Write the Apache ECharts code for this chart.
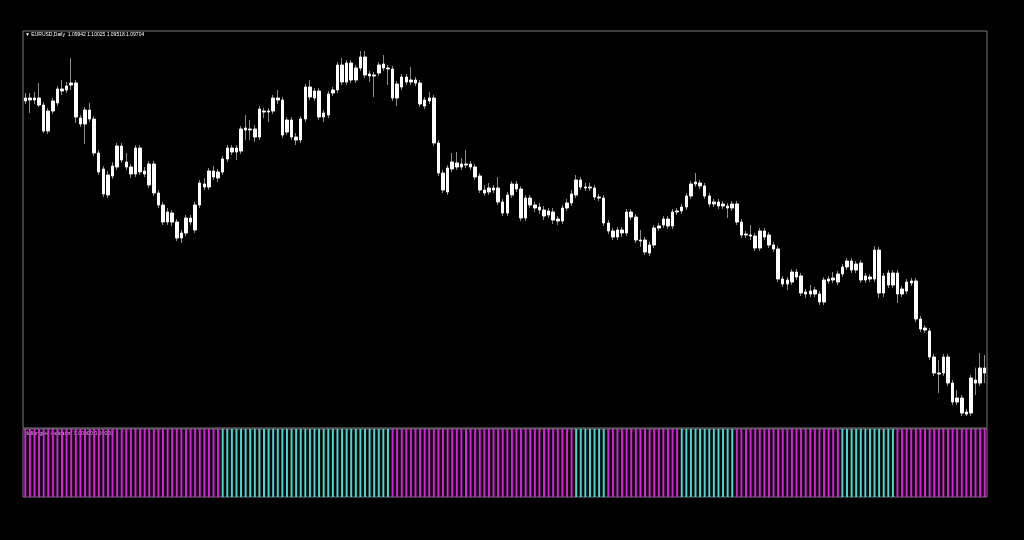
<!DOCTYPE html>
<html>
<head>
<meta charset="utf-8">
<title>EURUSD Daily</title>
<script src="https://cdn.jsdelivr.net/npm/echarts@6/dist/echarts.min.js"></script>
<style>
  html, body { margin: 0; padding: 0; background: #000; }
  #chart { width: 1024px; height: 540px; }
</style>
</head>
<body>
<div id="chart"></div>
<script>
// daily bars, [open, close, low, high]
const candles = [
  [1.1797,1.1806,1.1788,1.1821],[1.1806,1.1800,1.1761,1.1821],[1.1800,1.1806,1.1788,1.1824],[1.1806,1.1785,1.1779,1.1851],[1.1785,1.1707,1.1701,1.1794],
  [1.1707,1.1767,1.1698,1.1776],[1.1767,1.1797,1.1758,1.1806],[1.1791,1.1833,1.1782,1.1842],[1.1833,1.1827,1.1815,1.1860],[1.1830,1.1842,1.1821,1.1854],
  [1.1845,1.1851,1.1830,1.1926],[1.1851,1.1749,1.1731,1.1860],[1.1746,1.1728,1.1719,1.1755],[1.1728,1.1770,1.1668,1.1779],[1.1770,1.1743,1.1734,1.1791],
  [1.1743,1.1641,1.1632,1.1752],[1.1641,1.1584,1.1575,1.1650],[1.1593,1.1518,1.1509,1.1602],[1.1515,1.1575,1.1506,1.1587],[1.1572,1.1602,1.1563,1.1614],
  [1.1599,1.1662,1.1590,1.1671],[1.1662,1.1620,1.1611,1.1671],[1.1614,1.1599,1.1590,1.1641],[1.1599,1.1578,1.1566,1.1608],[1.1578,1.1656,1.1569,1.1665],
  [1.1656,1.1584,1.1575,1.1665],[1.1587,1.1578,1.1569,1.1599],[1.1545,1.1608,1.1536,1.1617],[1.1608,1.1521,1.1512,1.1617],[1.1521,1.1485,1.1476,1.1530],
  [1.1485,1.1434,1.1425,1.1494],[1.1434,1.1464,1.1425,1.1476],[1.1461,1.1434,1.1422,1.1470],[1.1434,1.1386,1.1377,1.1443],[1.1386,1.1401,1.1371,1.1410],
  [1.1401,1.1446,1.1392,1.1455],[1.1446,1.1434,1.1425,1.1455],[1.1410,1.1485,1.1401,1.1494],[1.1485,1.1551,1.1476,1.1560],[1.1548,1.1539,1.1530,1.1566],
  [1.1539,1.1587,1.1530,1.1596],[1.1587,1.1569,1.1560,1.1602],[1.1566,1.1584,1.1554,1.1593],[1.1584,1.1623,1.1575,1.1632],[1.1623,1.1656,1.1614,1.1665],
  [1.1656,1.1644,1.1635,1.1665],[1.1644,1.1656,1.1620,1.1665],[1.1647,1.1713,1.1638,1.1722],[1.1710,1.1716,1.1680,1.1755],[1.1713,1.1710,1.1680,1.1740],
  [1.1713,1.1689,1.1674,1.1725],[1.1689,1.1773,1.1680,1.1782],[1.1767,1.1764,1.1746,1.1776],[1.1764,1.1767,1.1734,1.1776],[1.1767,1.1806,1.1758,1.1815],
  [1.1806,1.1800,1.1788,1.1830],[1.1800,1.1695,1.1686,1.1809],[1.1704,1.1740,1.1695,1.1749],[1.1740,1.1689,1.1680,1.1749],[1.1689,1.1680,1.1665,1.1701],
  [1.1680,1.1743,1.1671,1.1752],[1.1743,1.1839,1.1734,1.1848],[1.1839,1.1809,1.1800,1.1860],[1.1806,1.1827,1.1797,1.1836],[1.1827,1.1749,1.1740,1.1836],
  [1.1749,1.1761,1.1734,1.1770],[1.1755,1.1818,1.1746,1.1827],[1.1821,1.1830,1.1812,1.1839],[1.1830,1.1905,1.1821,1.1914],[1.1905,1.1854,1.1845,1.1926],
  [1.1854,1.1911,1.1845,1.1920],[1.1911,1.1860,1.1851,1.1920],[1.1860,1.1896,1.1851,1.1905],[1.1896,1.1929,1.1887,1.1947],[1.1929,1.1875,1.1866,1.1947],
  [1.1878,1.1872,1.1854,1.1887],[1.1872,1.1875,1.1809,1.1884],[1.1881,1.1905,1.1872,1.1914],[1.1908,1.1896,1.1887,1.1935],[1.1896,1.1893,1.1845,1.1905],
  [1.1893,1.1806,1.1797,1.1902],[1.1806,1.1848,1.1782,1.1857],[1.1839,1.1869,1.1830,1.1878],[1.1869,1.1854,1.1845,1.1878],[1.1854,1.1860,1.1845,1.1899],
  [1.1860,1.1851,1.1842,1.1869],[1.1851,1.1788,1.1779,1.1860],[1.1782,1.1800,1.1773,1.1809],[1.1797,1.1806,1.1788,1.1824],[1.1806,1.1671,1.1662,1.1815],
  [1.1671,1.1581,1.1572,1.1680],[1.1581,1.1530,1.1521,1.1590],[1.1524,1.1596,1.1515,1.1605],[1.1593,1.1614,1.1584,1.1641],[1.1611,1.1599,1.1590,1.1644],
  [1.1599,1.1608,1.1590,1.1626],[1.1608,1.1605,1.1596,1.1650],[1.1608,1.1599,1.1590,1.1617],[1.1599,1.1569,1.1560,1.1608],[1.1572,1.1530,1.1521,1.1581],
  [1.1530,1.1521,1.1512,1.1545],[1.1524,1.1536,1.1515,1.1551],[1.1536,1.1530,1.1521,1.1545],[1.1536,1.1494,1.1485,1.1569],[1.1494,1.1461,1.1452,1.1503],
  [1.1461,1.1515,1.1452,1.1524],[1.1515,1.1548,1.1506,1.1557],[1.1548,1.1533,1.1524,1.1557],[1.1533,1.1446,1.1437,1.1542],[1.1446,1.1506,1.1437,1.1515],
  [1.1506,1.1485,1.1476,1.1515],[1.1485,1.1476,1.1464,1.1494],[1.1479,1.1470,1.1458,1.1491],[1.1470,1.1452,1.1440,1.1482],[1.1455,1.1467,1.1446,1.1476],
  [1.1464,1.1440,1.1428,1.1476],[1.1443,1.1437,1.1425,1.1452],[1.1437,1.1476,1.1428,1.1485],[1.1476,1.1491,1.1467,1.1503],[1.1491,1.1518,1.1482,1.1530],
  [1.1515,1.1560,1.1506,1.1575],[1.1560,1.1539,1.1530,1.1569],[1.1539,1.1536,1.1527,1.1551],[1.1536,1.1539,1.1527,1.1551],[1.1536,1.1509,1.1500,1.1545],
  [1.1509,1.1506,1.1497,1.1518],[1.1506,1.1431,1.1422,1.1515],[1.1431,1.1407,1.1398,1.1440],[1.1407,1.1389,1.1380,1.1416],[1.1389,1.1410,1.1380,1.1419],
  [1.1410,1.1401,1.1389,1.1419],[1.1401,1.1464,1.1392,1.1473],[1.1464,1.1449,1.1440,1.1473],[1.1449,1.1380,1.1371,1.1458],[1.1380,1.1377,1.1359,1.1410],
  [1.1380,1.1344,1.1335,1.1389],[1.1341,1.1365,1.1332,1.1374],[1.1365,1.1416,1.1356,1.1425],[1.1416,1.1422,1.1407,1.1431],[1.1425,1.1443,1.1416,1.1452],
  [1.1443,1.1422,1.1413,1.1452],[1.1422,1.1464,1.1413,1.1473],[1.1464,1.1467,1.1455,1.1476],[1.1467,1.1479,1.1458,1.1488],[1.1479,1.1512,1.1470,1.1521],
  [1.1512,1.1548,1.1503,1.1557],[1.1548,1.1554,1.1539,1.1581],[1.1551,1.1542,1.1533,1.1560],[1.1542,1.1512,1.1503,1.1551],[1.1512,1.1488,1.1479,1.1521],
  [1.1488,1.1494,1.1479,1.1503],[1.1494,1.1482,1.1473,1.1503],[1.1482,1.1488,1.1473,1.1497],[1.1482,1.1476,1.1446,1.1491],[1.1476,1.1488,1.1467,1.1497],
  [1.1488,1.1434,1.1425,1.1497],[1.1434,1.1395,1.1386,1.1443],[1.1395,1.1398,1.1386,1.1407],[1.1395,1.1392,1.1380,1.1425],[1.1392,1.1356,1.1347,1.1401],
  [1.1356,1.1407,1.1347,1.1416],[1.1407,1.1389,1.1380,1.1416],[1.1395,1.1365,1.1356,1.1404],[1.1365,1.1353,1.1344,1.1374],[1.1353,1.1263,1.1254,1.1362],
  [1.1263,1.1248,1.1239,1.1272],[1.1248,1.1260,1.1230,1.1269],[1.1254,1.1284,1.1245,1.1293],[1.1284,1.1269,1.1260,1.1293],[1.1272,1.1221,1.1212,1.1281],
  [1.1224,1.1218,1.1206,1.1233],[1.1218,1.1227,1.1209,1.1245],[1.1230,1.1218,1.1209,1.1239],[1.1218,1.1194,1.1185,1.1227],[1.1194,1.1260,1.1185,1.1269],
  [1.1263,1.1257,1.1248,1.1272],[1.1260,1.1266,1.1251,1.1284],[1.1254,1.1278,1.1245,1.1287],[1.1278,1.1299,1.1269,1.1308],[1.1299,1.1317,1.1290,1.1326],
  [1.1317,1.1290,1.1281,1.1326],[1.1290,1.1308,1.1281,1.1317],[1.1311,1.1260,1.1251,1.1320],[1.1260,1.1272,1.1251,1.1281],[1.1269,1.1263,1.1254,1.1278],
  [1.1263,1.1350,1.1254,1.1362],[1.1350,1.1221,1.1206,1.1359],[1.1221,1.1272,1.1209,1.1281],[1.1281,1.1245,1.1236,1.1290],[1.1245,1.1281,1.1236,1.1290],
  [1.1281,1.1218,1.1191,1.1290],[1.1218,1.1233,1.1209,1.1242],[1.1227,1.1254,1.1218,1.1263],[1.1257,1.1251,1.1242,1.1266],[1.1257,1.1143,1.1134,1.1266],
  [1.1143,1.1113,1.1104,1.1152],[1.1116,1.1110,1.1101,1.1125],[1.1107,1.1029,1.1020,1.1116],[1.1029,1.0981,1.0972,1.1038],[1.0981,1.0978,1.0921,1.1020],
  [1.0981,1.1029,1.0972,1.1038],[1.1029,1.0951,1.0942,1.1038],[1.0951,1.0894,1.0885,1.0960],[1.0894,1.0906,1.0885,1.0930],[1.0906,1.0861,1.0852,1.0915],
  [1.0858,1.0864,1.0852,1.0873],[1.0861,1.0966,1.0852,1.0975],[1.0960,1.0951,1.0915,1.0997],[1.0951,1.0996,1.0942,1.1041],[1.0996,1.0981,1.0951,1.1035]
];

// indicator buffer per bar: 1 = up (cyan), 0 = down (magenta)
const trend = [
  0,0,0,0,0,0,0,0,0,0,0,0,0,0,0,0,0,0,0,0,0,0,0,0,0,0,0,0,0,0,0,0,0,0,0,0,0,0,0,0,0,0,0,
  1,1,1,1,1,1,1,1,1,1,1,1,1,1,1,1,1,1,1,1,1,1,1,1,1,1,1,1,1,1,1,1,1,1,1,1,1,
  0,0,0,0,0,0,0,0,0,0,0,0,0,0,0,0,0,0,0,0,0,0,0,0,0,0,0,0,0,0,0,0,0,0,0,0,0,0,0,0,
  1,1,1,1,1,1,1,
  0,0,0,0,0,0,0,0,0,0,0,0,0,0,0,0,
  1,1,1,1,1,1,1,1,1,1,1,1,
  0,0,0,0,0,0,0,0,0,0,0,0,0,0,0,0,0,0,0,0,0,0,0,
  1,1,1,1,1,1,1,1,1,1,1,1,
  0,0,0,0,0,0,0,0,0,0,0,0,0,0,0,0,0,0,0,0
];

const symbolTitle = '\u25BC EURUSD,Daily  1.09942 1.10025 1.09518 1.09704';
const indicatorTitle = 'dollar give indicator  1.00000 0.00000';

const days = candles.map((c, i) => String(i + 1));
// white bodies drawn over the gray wicks
const bodies = candles.map(c => [c[0], c[1], Math.min(c[0], c[1]), Math.max(c[0], c[1])]);
const upBars = trend.map(t => (t === 1 ? 1 : null));
const downBars = trend.map(t => (t === 0 ? 1 : null));

const chart = echarts.init(document.getElementById('chart'));
chart.setOption({
  backgroundColor: '#000',
  animation: false,
  grid: [
    { left: 23, top: 31, width: 964, height: 397, show: true, borderColor: '#7a7a7a', borderWidth: 1 },
    { left: 23, top: 429, width: 964, height: 68, show: true, borderColor: '#7a7a7a', borderWidth: 1 }
  ],
  xAxis: [
    { type: 'category', data: days, gridIndex: 0, boundaryGap: true, show: false },
    { type: 'category', data: days, gridIndex: 1, boundaryGap: true, show: false }
  ],
  yAxis: [
    { type: 'value', gridIndex: 0, min: 1.0816, max: 1.2007, show: false, splitLine: { show: false } },
    { type: 'value', gridIndex: 1, min: 0, max: 1, show: false, splitLine: { show: false } }
  ],
  graphic: [
    { type: 'text', left: 25, top: 32, style: { text: symbolTitle, fill: '#fff', fontSize: 5, fontFamily: 'Liberation Sans' } },
    { type: 'text', left: 25, top: 431, style: { text: indicatorTitle, fill: '#d8d8d8', fontSize: 5.3, fontFamily: 'Liberation Sans' } }
  ],
  series: [
    {
      type: 'candlestick', name: 'wicks', data: candles, barWidth: 1,
      itemStyle: { color: '#8c8c8c', color0: '#8c8c8c', borderColor: '#8c8c8c', borderColor0: '#8c8c8c', borderWidth: 1 }
    },
    {
      type: 'candlestick', name: 'EURUSD', data: bodies, barWidth: 3,
      itemStyle: { color: '#fff', color0: '#fff', borderColor: '#fff', borderColor0: '#fff', borderWidth: 1 }
    },
    {
      type: 'bar', name: 'up', xAxisIndex: 1, yAxisIndex: 1, data: upBars, barWidth: 2, barGap: '-100%',
      itemStyle: { color: '#44d8d2' }
    },
    {
      type: 'bar', name: 'down', xAxisIndex: 1, yAxisIndex: 1, data: downBars, barWidth: 2, barGap: '-100%',
      itemStyle: { color: '#dc1ee0' }
    }
  ]
});
</script>
</body>
</html>
